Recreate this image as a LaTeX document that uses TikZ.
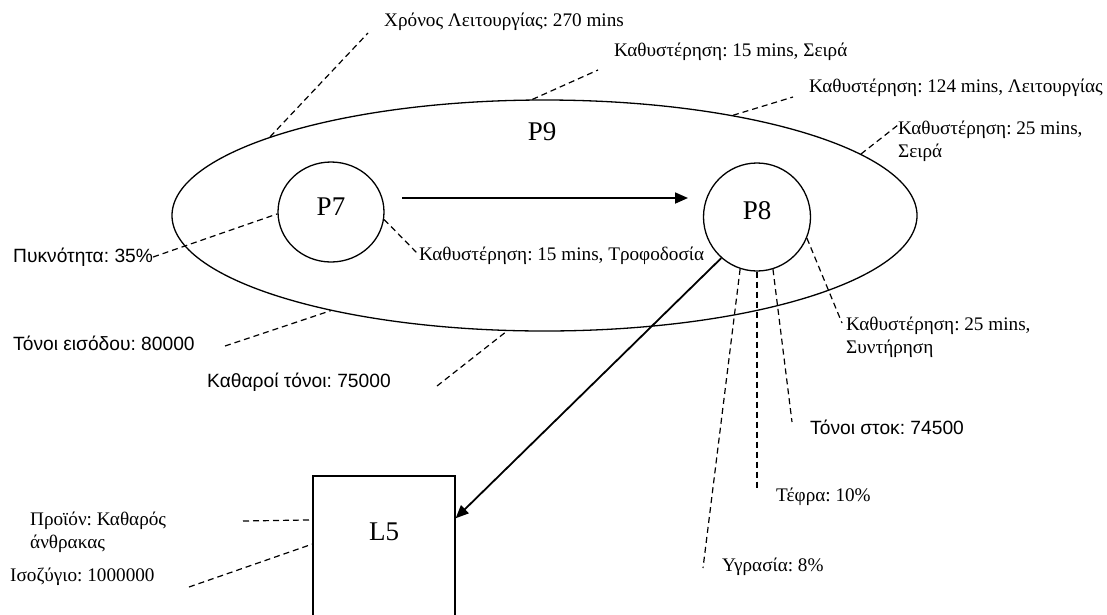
\documentclass[tikz,border=0pt]{standalone}
\usepackage{fontspec}
\setmainfont{Liberation Serif}
\newfontfamily\arialf{Liberation Sans}
\usetikzlibrary{arrows.meta,shapes.geometric}
\frenchspacing

\tikzset{
  shape line/.style={draw=black, line width=1.3pt},
  big label/.style={font=\fontsize{27}{30}\selectfont},
  leader/.style={draw=black, line width=1.2pt, dash pattern=on 6pt off 4pt},
  flow/.style={draw=black, line width=1.8pt, -{Triangle[length=13pt,width=11pt]}},
  serif note/.style={anchor=west, inner sep=0pt, align=left, font=\fontsize{19.2}{23}\selectfont},
  sans note/.style={anchor=west, inner sep=0pt, align=left, font=\arialf\fontsize{19.2}{23}\selectfont},
}

\begin{document}
\begin{tikzpicture}[x=1pt, y=-1pt]
  \clip (0,0) rectangle (1107,614);
  \fill[white] (0,0) rectangle (1107,614);

  % process shapes
  \node[shape line, ellipse, minimum width=745pt, minimum height=231pt, inner sep=0pt] (P9) at (544.5,215.5) {};
  \node[big label] (P9t) at (542,132) {P9};
  \node[shape line, ellipse, minimum width=106pt, minimum height=100pt, inner sep=0pt] (P7) at (331,212) {};
  \node[big label] (P7t) at (331,207) {P7};
  \node[shape line, ellipse, minimum width=107pt, minimum height=108pt, inner sep=0pt] (P8) at (757,217) {};
  \node[big label] (P8t) at (757,211) {P8};
  \node[shape line, rectangle, minimum width=142pt, minimum height=164pt, inner sep=0pt] (L5) at (384,558) {};
  \node[big label] (L5t) at (384,532) {L5};

  % flows
  \coordinate (a1s) at (402,198);
  \coordinate (a1e) at (688,198);
  \draw[flow] (a1s) -- (a1e);
  \draw[flow] (P8.229.5) -- (L5.29.4);

  % annotations
  \node[serif note] (n1) at (384,22) {Χρόνος Λειτουργίας: 270 mins};
  \node[serif note] (n2) at (614,52) {Καθυστέρηση: 15 mins, Σειρά};
  \node[serif note] (n3) at (809,88) {Καθυστέρηση: 124 mins, Λειτουργίας};
  \node[serif note] (n4) at (898,141) {Καθυστέρηση: 25 mins,\\Σειρά};
  \node[sans note] (n5) at (13,257) {Πυκνότητα: 35\%};
  \node[serif note] (n6) at (419,256) {Καθυστέρηση: 15 mins, Τροφοδοσία};
  \node[sans note] (n7) at (13,343) {Τόνοι εισόδου: 80000};
  \node[sans note] (n8) at (207,382) {Καθαροί τόνοι: 75000};
  \node[serif note] (n9) at (846,337) {Καθυστέρηση: 25 mins,\\Συντήρηση};
  \node[sans note] (n10) at (810,427) {Τόνοι στοκ: 74500};
  \node[serif note] (n11) at (776,497) {Τέφρα: 10\%};
  \node[serif note] (n12) at (722,567) {Υγρασία: 8\%};
  \node[serif note] (n13) at (30,532) {Προϊόν: Καθαρός\\άνθρακας};
  \node[serif note] (n14) at (10,577) {Ισοζύγιο: 1000000};

  % free ends of the leader lines
  \coordinate (e1) at (368,33);
  \coordinate (e2) at (598,70);
  \coordinate (e3) at (793,97);
  \coordinate (e4) at (898,125);
  \coordinate (e6) at (419,255);
  \coordinate (e7) at (225,346);
  \coordinate (e8) at (437,386);
  \coordinate (e9) at (842,323);
  \coordinate (e10) at (792,422);
  \coordinate (e11) at (757,491);
  \coordinate (e12) at (703,568);
  \coordinate (e13) at (243,521);
  \coordinate (e14) at (189,587);

  % leader lines
  \draw[leader] (P9.164.3) -- (e1);
  \draw[leader] (P9.96.2) -- (e2);
  \draw[leader] (P9.28.3) -- (e3);
  \draw[leader] (P9.11.5) -- (e4);
  \draw[leader] (n5.east) -- (P7.182);
  \draw[leader] (P7.352.6) -- (e6);
  \draw[leader] (e7) -- (P9.204);
  \draw[leader] (e8) -- (P9.252.3);
  \draw[leader] (P8.337) -- (e9);
  \draw[leader] (P8.287.8) -- (e10);
  \draw[leader] (P8.270) -- (e11);
  \draw[leader] (P8.252) -- (e12);
  \draw[leader] (e13) -- (L5.152.5);
  \draw[leader] (e14) -- (L5.169.6);
\end{tikzpicture}
\end{document}
